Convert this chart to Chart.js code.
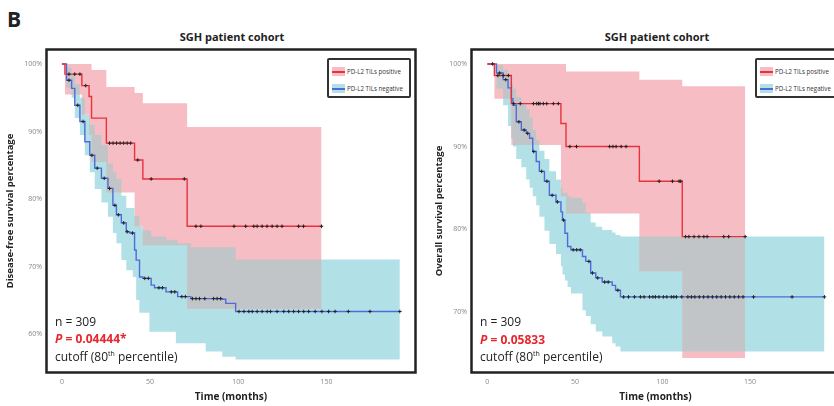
<!DOCTYPE html>
<html>
<head>
<meta charset="utf-8">
<script src="https://cdn.jsdelivr.net/npm/chart.js@4.4.1/dist/chart.umd.min.js"></script>
<style>
html,body{margin:0;padding:0;overflow:hidden;background:#fff;width:834px;height:406px;}
body{position:relative;font-family:"Open Sans",sans-serif;color:#222;}
.wrap{position:absolute;top:0;}
.t{position:absolute;white-space:nowrap;}
.title{font-weight:bold;font-size:11px;line-height:13px;transform:translateX(-50%);}
.ann{font-size:12px;line-height:14px;}
.pv{color:#e8262d;font-weight:bold;}
.leg{position:absolute;width:80px;height:36px;border:2px solid #333;border-radius:2px;background:#fff;}
.li{position:absolute;left:3px;font-size:6.2px;line-height:9px;white-space:nowrap;color:#333;}
.sw{display:inline-block;width:13px;height:9px;vertical-align:top;position:relative;margin-right:2px;}
.sw i{position:absolute;left:0;right:0;top:3.5px;height:2px;}
sup{font-size:7px;line-height:0;}
</style>
</head>
<body>
<div class="t" style="left:7px;top:5px;font-size:21px;font-weight:bold;line-height:28px;">B</div>
<div class="t title" style="left:232px;top:30px;">SGH patient cohort</div>
<div class="t title" style="left:657px;top:30px;">SGH patient cohort</div>

<div class="wrap" style="left:0;width:420px;height:406px;"><canvas id="cL" width="420" height="406"></canvas></div>
<div class="wrap" style="left:414px;width:430px;height:406px;"><canvas id="cR" width="430" height="406"></canvas></div>

<div class="leg" style="left:327px;top:58px;">
  <div class="li" style="top:7px;"><span class="sw" style="background:#f6bec4"><i style="background:#e8323c"></i></span>PD-L2 TILs positive</div>
  <div class="li" style="top:24px;"><span class="sw" style="background:#b2e0e7"><i style="background:#4f6bd8"></i></span>PD-L2 TILs negative</div>
</div>
<div class="leg" style="left:755px;top:58px;">
  <div class="li" style="top:7px;"><span class="sw" style="background:#f6bec4"><i style="background:#e8323c"></i></span>PD-L2 TILs positive</div>
  <div class="li" style="top:24px;"><span class="sw" style="background:#b2e0e7"><i style="background:#4f6bd8"></i></span>PD-L2 TILs negative</div>
</div>

<div class="t ann" style="left:55px;top:315px;">n = 309</div>
<div class="t ann pv" style="left:55px;top:332px;"><i>P</i> = 0.04444*</div>
<div class="t ann" style="left:55px;top:350px;">cutoff (80<sup>th</sup> percentile)</div>
<div class="t ann" style="left:480px;top:315px;">n = 309</div>
<div class="t ann pv" style="left:480px;top:333px;"><i>P</i> = 0.05833</div>
<div class="t ann" style="left:480px;top:350px;">cutoff (80<sup>th</sup> percentile)</div>

<script>
// ---------- shared ticks ----------
const xTicks = [0, 50, 100, 150];
const yTicksDFS = [60, 70, 80, 90, 100];
const yTicksOS = [70, 80, 90, 100];

// ---------- Disease-free survival (left) ----------
const dfsPosTime = [0, 1.7, 11.3, 15.4, 16.8, 25.2, 41.2, 45.9, 71, 147.2];
const dfsPosSurv = [100, 98.5, 96.8, 95.2, 92.0, 88.3, 85.8, 83.0, 76.0, 76.0];
const dfsPosUpTime = [0, 16.8, 25.2, 41.2, 45.9, 71, 147.2];
const dfsPosUp = [100, 99.1, 96.6, 95.7, 94.2, 90.7, 90.7];
const dfsPosLoTime = [0, 1.7, 11.3, 15.4, 16.8, 25.2, 41.2, 45.9, 71, 147.2];
const dfsPosLo = [100, 95.5, 92.5, 89.5, 85.5, 81.0, 76.0, 73.2, 63.8, 63.8];
const dfsPosCensor = [4, 7.3, 10.2, 13.5, 27, 29, 31, 33, 35, 37, 39, 43, 50.6, 69.4, 76, 78.8, 97.6, 104.2, 108.8, 110.7, 113.5, 116.3, 119.2, 122, 124.8, 134.2, 137, 147.2];

const dfsNegTime = [0, 2.6, 5.5, 7.3, 10.2, 13, 15.8, 18.6, 22.4, 26.1, 28.9, 30.9, 33.7, 36.5, 38.4, 41.2, 42.1, 44, 45.9, 50.6, 52.5, 59, 65.6, 73.1, 91, 92.9, 98.5, 191.6];
const dfsNegSurv = [100, 97.6, 96.4, 93.9, 91.5, 88.5, 86.5, 84.6, 83.1, 81.6, 79.1, 77.7, 76.5, 75.2, 75.0, 72.5, 71.0, 68.5, 68.3, 67.3, 66.9, 66.3, 65.6, 65.3, 65.2, 64.6, 63.4, 63.4];
const dfsNegUpTime = [0, 2.6, 5.5, 7.3, 10.2, 13, 15.8, 18.6, 22.4, 26.1, 28.9, 30.9, 33.7, 36.5, 41.2, 44, 45.9, 50.6, 59, 65.6, 73.1, 98.5, 191.6];
const dfsNegUp = [100, 99.5, 98.5, 97, 95, 92.5, 91, 89.5, 88, 85.3, 84, 83, 80.5, 78.7, 77.5, 76, 75.4, 74.5, 74, 73.5, 72.9, 71.1, 71.1];
const dfsNegLoTime = [0, 2.6, 5.5, 7.3, 10.2, 13, 15.8, 18.6, 22.4, 26.1, 28.9, 30.9, 33.7, 36.5, 40.2, 42.1, 43.9, 49.6, 64.6, 81.5, 90.9, 98.5, 191.6];
const dfsNegLo = [100, 96.5, 95, 92, 89.5, 86.5, 84, 81.5, 79.5, 77.4, 75, 73.5, 71, 69.5, 68.5, 65.1, 63.2, 60.4, 58.7, 57.5, 56.7, 56.3, 56.3];
const dfsNegCensor = [4, 9, 12, 17, 20, 24, 27, 30, 32, 35, 37, 40, 47, 49, 55, 57, 62, 64, 68, 70, 74, 76, 78, 81, 86, 88, 90, 100.4, 103.2, 106, 107.9, 110.7, 113.5, 116.4, 118.3, 122, 125.8, 128.6, 131.4, 134.2, 137.1, 139.9, 143.6, 147.4, 151.2, 154.9, 162.4, 174.7, 191.6];

// ---------- Overall survival (right) ----------
const osPosTime = [0, 4, 13.7, 42, 44.9, 86.8, 111.3, 147.2];
const osPosSurv = [100, 98.6, 95.2, 92.8, 90.0, 85.8, 79.1, 79.1];
const osPosUpTime = [0, 44.9, 86.8, 111.3, 147.2];
const osPosUp = [100, 99.1, 98.1, 97.3, 97.3];
const osPosLoTime = [0, 4, 13.7, 42, 44.9, 86.8, 111.3, 147.2];
const osPosLo = [100, 95.8, 90.2, 84.0, 81.9, 74.9, 64.4, 64.4];
const osPosCensor = [6, 9, 12, 15, 18.8, 26.3, 28.2, 29.2, 30.1, 32, 33.9, 37.7, 40.5, 47.1, 50.9, 69.8, 71.7, 73.5, 76.4, 79.2, 98.1, 105.7, 109.5, 110.4, 113.2, 115.1, 118, 120.8, 123.6, 125.5, 135, 137.8, 147.2];

const osNegTime = [0, 5.2, 9, 11.8, 13.7, 14.6, 16.5, 19.4, 22.2, 24.1, 25.9, 27.9, 29.7, 32.6, 35.4, 39.2, 42, 42.9, 44.3, 45.8, 47.7, 54.3, 56.2, 59, 61.9, 65.6, 71.3, 73.2, 76, 192.5];
const osNegSurv = [100, 98.9, 98.1, 97.1, 95.8, 95.0, 93.0, 92.0, 91.6, 91.0, 89.4, 88.2, 87.0, 85.8, 84.1, 83.3, 82.1, 81.1, 79.5, 77.9, 77.5, 76.7, 76.1, 74.7, 74.1, 73.6, 73.2, 72.6, 71.8, 71.8];
const osNegUpTime = [0, 5.2, 9, 11.8, 13.7, 14.6, 16.5, 19.4, 22.2, 24.1, 25.9, 27.9, 29.7, 32.6, 35.4, 39.2, 42, 42.9, 45.8, 47.7, 54.3, 56.2, 59, 61.9, 65.6, 71.3, 73.2, 76, 192.5];
const osNegUp = [100, 99.8, 99.3, 98.5, 97.5, 97, 96, 95.3, 94.5, 93.5, 92, 90.8, 89.5, 88.5, 87, 86, 85, 84.4, 84, 83.8, 83.2, 82, 80.8, 80.3, 79.9, 79.6, 79.3, 79.1, 79.1];
const osNegLoTime = [0, 5.2, 9, 11.8, 13.7, 14.6, 16.5, 19.4, 22.2, 24.1, 25.9, 27.9, 29.7, 32.6, 35.4, 39.2, 42, 42.9, 44.3, 45.8, 47.7, 54.3, 56.2, 59, 61.9, 65.6, 71.3, 73.2, 76, 192.5];
const osNegLo = [100, 97, 95, 92.5, 91, 90, 88.5, 87.5, 86, 85, 84, 82.9, 81.5, 79.8, 78.2, 77, 75.5, 74.5, 73.8, 73, 72.2, 70.2, 69.5, 68.5, 67.6, 67, 66.2, 65.8, 65.2, 65.2];
const osNegCensor = [3, 7, 10.5, 18, 21, 23, 26.5, 31, 34, 37, 40, 43.5, 49, 51, 53, 58, 60, 63, 67, 69, 74.5, 77.8, 80.6, 84, 87.4, 89.5, 92.6, 94.5, 96, 98, 100.5, 102.5, 105, 106.5, 108, 111, 114.5, 116.5, 118.5, 121, 123.5, 126, 128.5, 131, 133.5, 136, 138.5, 141, 143.5, 146, 152, 174, 192.5];

// ---------- colours ----------
const RED = '#e8323c', BLUE = '#4f6bd8';
const PINK = 'rgb(246,190,196)', CYAN = 'rgb(178,224,231)', GREY = 'rgb(193,197,200)';

// ---------- helpers ----------
function stepVal(ts, vs, t) {
  let v = vs[0];
  for (let i = 0; i < ts.length; i++) { if (ts[i] <= t + 1e-9) v = vs[i]; else break; }
  return v;
}
function pts(ts, vs) { return ts.map((t, i) => ({x: t, y: vs[i]})); }
function band(uT, uV, lT, lV) {
  const xs = [...new Set([...uT, ...lT])].sort((a, b) => a - b);
  return {
    up: xs.map(x => ({x, y: stepVal(uT, uV, x)})),
    lo: xs.map(x => ({x, y: stepVal(lT, lV, x)}))
  };
}
function overlap(a, b) {
  const end = Math.min(a.uT[a.uT.length - 1], b.uT[b.uT.length - 1]);
  const xs = [...new Set([...a.uT, ...a.lT, ...b.uT, ...b.lT])].filter(x => x <= end).sort((p, q) => p - q);
  const up = [], lo = [];
  xs.forEach(x => {
    let h = Math.min(stepVal(a.uT, a.uV, x), stepVal(b.uT, b.uV, x));
    const l = Math.max(stepVal(a.lT, a.lV, x), stepVal(b.lT, b.lV, x));
    if (h < l) h = l;
    up.push({x, y: h}); lo.push({x, y: l});
  });
  return {up, lo};
}
function censorPts(cs, ts, vs) { return cs.map(c => ({x: c, y: stepVal(ts, vs, c)})); }

const framePlugin = {
  id: 'frame',
  afterDatasetsDraw(chart) {
    const {ctx, chartArea: a} = chart;
    ctx.save();
    ctx.strokeStyle = '#222';
    ctx.lineWidth = 2.5;
    ctx.strokeRect(a.left - 0.5, a.top - 0.5, a.right - a.left + 1, a.bottom - a.top + 1);
    ctx.restore();
  }
};

function makeChart(id, c) {
  const pos = {uT: c.pUT, uV: c.pU, lT: c.pLT, lV: c.pL};
  const neg = {uT: c.nUT, uV: c.nU, lT: c.nLT, lV: c.nL};
  const pb = band(pos.uT, pos.uV, pos.lT, pos.lV);
  const nb = band(neg.uT, neg.uV, neg.lT, neg.lV);
  const ob = overlap(pos, neg);
  const lineBase = {stepped: true, pointRadius: 0, tension: 0};
  const datasets = [
    {...lineBase, data: pts(c.pT, c.pS), borderColor: RED, borderWidth: 1.4, fill: false, order: 1},
    {...lineBase, data: pts(c.nT, c.nS), borderColor: BLUE, borderWidth: 1.4, fill: false, order: 1},
    {data: censorPts(c.pC, c.pT, c.pS), showLine: false, pointStyle: 'cross', pointRadius: 1.8, borderColor: '#222', borderWidth: 1, order: 0},
    {data: censorPts(c.nC, c.nT, c.nS), showLine: false, pointStyle: 'cross', pointRadius: 1.8, borderColor: '#222', borderWidth: 1, order: 0},
    {...lineBase, data: ob.up, borderWidth: 0, fill: false, order: 5},
    {...lineBase, data: ob.lo, borderWidth: 0, fill: '-1', backgroundColor: GREY, order: 5},
    {...lineBase, data: pb.up, borderWidth: 0, fill: false, order: 6},
    {...lineBase, data: pb.lo, borderWidth: 0, fill: '-1', backgroundColor: PINK, order: 6},
    {...lineBase, data: nb.up, borderWidth: 0, fill: false, order: 7},
    {...lineBase, data: nb.lo, borderWidth: 0, fill: '-1', backgroundColor: CYAN, order: 7}
  ];
  return new Chart(document.getElementById(id), {
    type: 'line',
    data: {datasets},
    plugins: [framePlugin],
    options: {
      responsive: false,
      animation: false,
      events: [],
      layout: {padding: {top: 50, right: c.padRight, left: 0, bottom: 0}},
      plugins: {legend: {display: false}, tooltip: {enabled: false}, title: {display: false}},
      scales: {
        x: {
          type: 'linear', min: c.xmin, max: c.xmax,
          grid: {display: false, drawTicks: false}, border: {display: false},
          ticks: {padding: 6, font: {size: 7, family: 'Open Sans'}, color: '#888', maxRotation: 0},
          afterBuildTicks: ax => { ax.ticks = xTicks.map(v => ({value: v})); },
          afterFit: s => { s.height = 34; },
          title: {display: true, text: 'Time (months)', color: '#222', font: {size: 10, weight: 'bold', family: 'Open Sans'}, padding: {top: 0, bottom: 3}}
        },
        y: {
          type: 'linear', min: c.ymin, max: c.ymax,
          grid: {display: false, drawTicks: false}, border: {display: false},
          ticks: {padding: 5, font: {size: 7, family: 'Open Sans'}, color: '#888', callback: v => v + '%'},
          afterBuildTicks: ax => { ax.ticks = c.yTicks.map(v => ({value: v})); },
          afterFit: s => { s.width = c.yw; },
          title: {display: true, text: c.ytitle, color: '#222', font: {size: 9.5, weight: 'bold', family: 'Open Sans'}, padding: {top: c.ytp, bottom: 0}}
        }
      }
    }
  });
}

makeChart('cL', {
  pT: dfsPosTime, pS: dfsPosSurv, pUT: dfsPosUpTime, pU: dfsPosUp, pLT: dfsPosLoTime, pL: dfsPosLo, pC: dfsPosCensor,
  nT: dfsNegTime, nS: dfsNegSurv, nUT: dfsNegUpTime, nU: dfsNegUp, nLT: dfsNegLoTime, nL: dfsNegLo, nC: dfsNegCensor,
  xmin: -8.46, xmax: 200.2, ymin: 54.45, ymax: 102.07, yTicks: yTicksDFS,
  yw: 47, padRight: 3, ytp: 4.3, ytitle: 'Disease-free survival percentage'
});
makeChart('cR', {
  pT: osPosTime, pS: osPosSurv, pUT: osPosUpTime, pU: osPosUp, pLT: osPosLoTime, pL: osPosLo, pC: osPosCensor,
  nT: osNegTime, nS: osNegSurv, nUT: osNegUpTime, nU: osNegUp, nLT: osNegLoTime, nL: osNegLo, nC: osNegCensor,
  xmin: -8.78, xmax: 200.8, ymin: 62.71, ymax: 101.69, yTicks: yTicksOS,
  yw: 58, padRight: 2, ytp: 19.3, ytitle: 'Overall survival percentage'
});
</script>
</body>
</html>
